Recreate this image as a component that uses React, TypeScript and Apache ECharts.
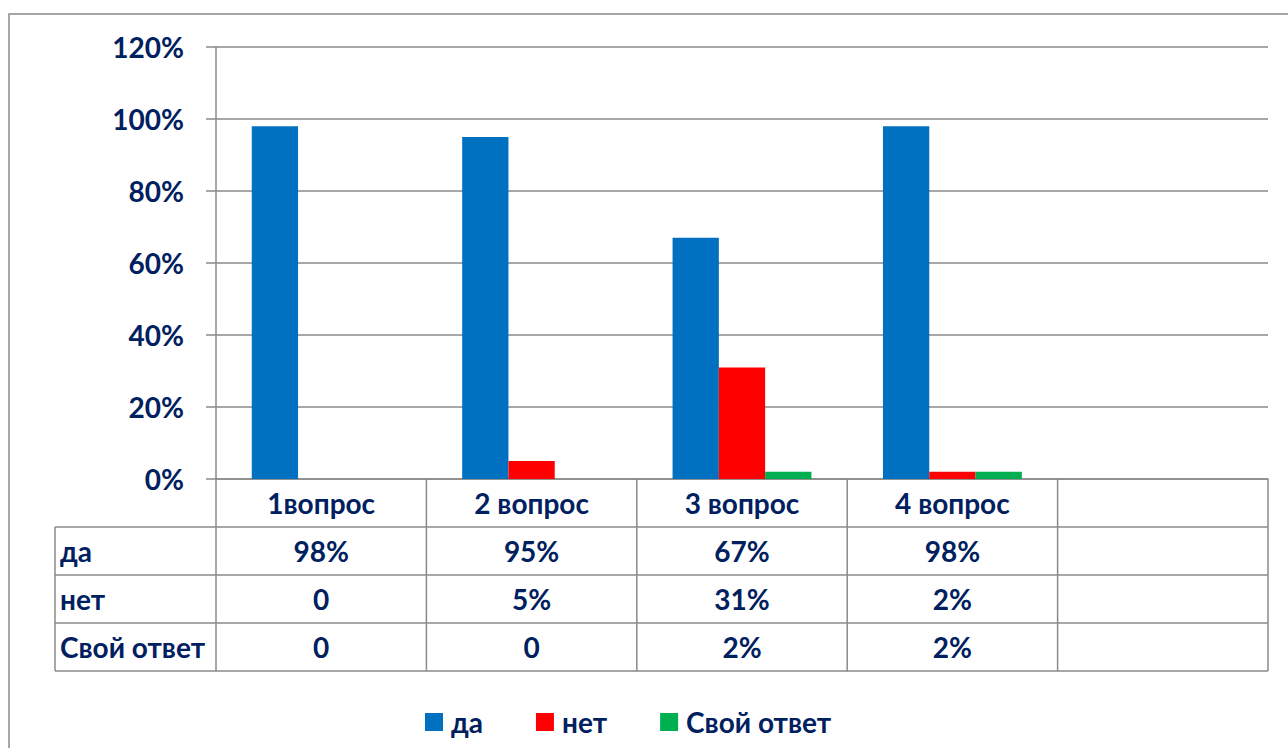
import React, { useEffect, useRef } from "react";
import * as echarts from "echarts";

const categories = ["1вопрос", "2 вопрос", "3 вопрос", "4 вопрос", ""];
const seriesNames = ["да", "нет", "Свой ответ"];
const daValues = [98, 95, 67, 98, null];
const netValues = [0, 5, 31, 2, null];
const svoyValues = [0, 0, 2, 2, null];
const seriesColors = ["#0070C0", "#FF0000", "#00B050"];
const yTicks = { min: 0, max: 120, interval: 20 };

const NAVY = "#002060";
const LINE = "#8a8a8a";
const FONT = "Lato";
const FS = 28;

const fmt = (v: number | null) => (v === null ? "" : v === 0 ? "0" : `${v}%`);

export default function App() {
  const ref = useRef<HTMLDivElement>(null);

  useEffect(() => {
    if (!ref.current) return;
    const chart = echarts.init(ref.current, null, { renderer: "svg" });
    const allValues = [daValues, netValues, svoyValues];
    const option: any = {
      animation: false,
      backgroundColor: "#ffffff",
      grid: { left: 216, right: 20, top: 47, bottom: 269, containLabel: false },
      legend: {
        left: 425,
        top: 708,
        padding: 0,
        itemWidth: 18,
        itemHeight: 18,
        itemGap: 53,
        icon: "rect",
        textStyle: { color: NAVY, fontFamily: FONT, fontWeight: "bold", fontSize: FS, padding: [0, 0, 0, 3] },
        data: seriesNames,
      },
      xAxis: {
        type: "category",
        data: categories,
        axisLine: { show: true, lineStyle: { color: LINE, width: 1.5 } },
        axisTick: { show: false },
        axisLabel: {
          color: NAVY,
          fontFamily: FONT,
          fontWeight: "bold",
          fontSize: FS,
          margin: 24,
          verticalAlign: "middle",
          interval: 0,
        },
        splitLine: { show: false },
      },
      yAxis: {
        type: "value",
        min: yTicks.min,
        max: yTicks.max,
        interval: yTicks.interval,
        axisLine: { show: true, lineStyle: { color: LINE, width: 1.5 } },
        axisTick: { show: true, length: 10, lineStyle: { color: LINE, width: 1.5 } },
        axisLabel: {
          color: NAVY,
          fontFamily: FONT,
          fontWeight: "bold",
          fontSize: FS,
          margin: 32,
          formatter: "{value}%",
        },
        splitLine: { show: true, lineStyle: { color: LINE, width: 1.5 } },
      },
      series: seriesNames.map((name, i) => ({
        name,
        type: "bar",
        data: allValues[i],
        barGap: "0%",
        barCategoryGap: "34%",
        itemStyle: { color: seriesColors[i] },
      })),
    };
    chart.setOption(option);

    // Build the data table below the plot from the axis scale
    const centers = categories.map((_, i) => chart.convertToPixel({ xAxisIndex: 0 }, i) as number);
    const catW = centers.length > 1 ? centers[1] - centers[0] : 200;
    const y0 = chart.convertToPixel({ yAxisIndex: 0 }, 0) as number;
    const xLeft = centers[0] - catW / 2;
    const xRight = centers[centers.length - 1] + catW / 2;
    const rowH = 48;
    const labelX = 55;
    const rows = [y0 + rowH, y0 + 2 * rowH, y0 + 3 * rowH, y0 + 4 * rowH];
    const ls = { stroke: LINE, lineWidth: 1.5 };
    const g: any[] = [];
    g.push({
      type: "rect",
      shape: { x: 9, y: 14, width: 1400, height: 900 },
      style: { fill: "none", stroke: LINE, lineWidth: 1.5 },
      silent: true,
    });
    rows.forEach((y) => g.push({ type: "line", shape: { x1: labelX, y1: y, x2: xRight, y2: y }, style: ls }));
    g.push({ type: "line", shape: { x1: labelX, y1: rows[0], x2: labelX, y2: rows[3] }, style: ls });
    for (let i = 0; i <= centers.length; i++) {
      const x = xLeft + i * catW;
      g.push({ type: "line", shape: { x1: x, y1: y0, x2: x, y2: rows[3] }, style: ls });
    }
    seriesNames.forEach((name, r) => {
      const cy = (rows[r] + rows[r + 1]) / 2;
      g.push({
        type: "text",
        x: labelX + 5,
        y: cy,
        style: { text: name, fill: NAVY, font: `bold ${FS}px ${FONT}`, align: "left", verticalAlign: "middle" },
      });
      allValues[r].forEach((v, c) => {
        g.push({
          type: "text",
          x: centers[c],
          y: cy,
          style: { text: fmt(v), fill: NAVY, font: `bold ${FS}px ${FONT}`, align: "center", verticalAlign: "middle" },
        });
      });
    });
    chart.setOption({ graphic: g });

    return () => chart.dispose();
  }, []);

  return (
    <div
      ref={ref}
      style={{ position: "absolute", left: 0, top: 0, width: 1288, height: 748, background: "#fff" }}
    />
  );
}
